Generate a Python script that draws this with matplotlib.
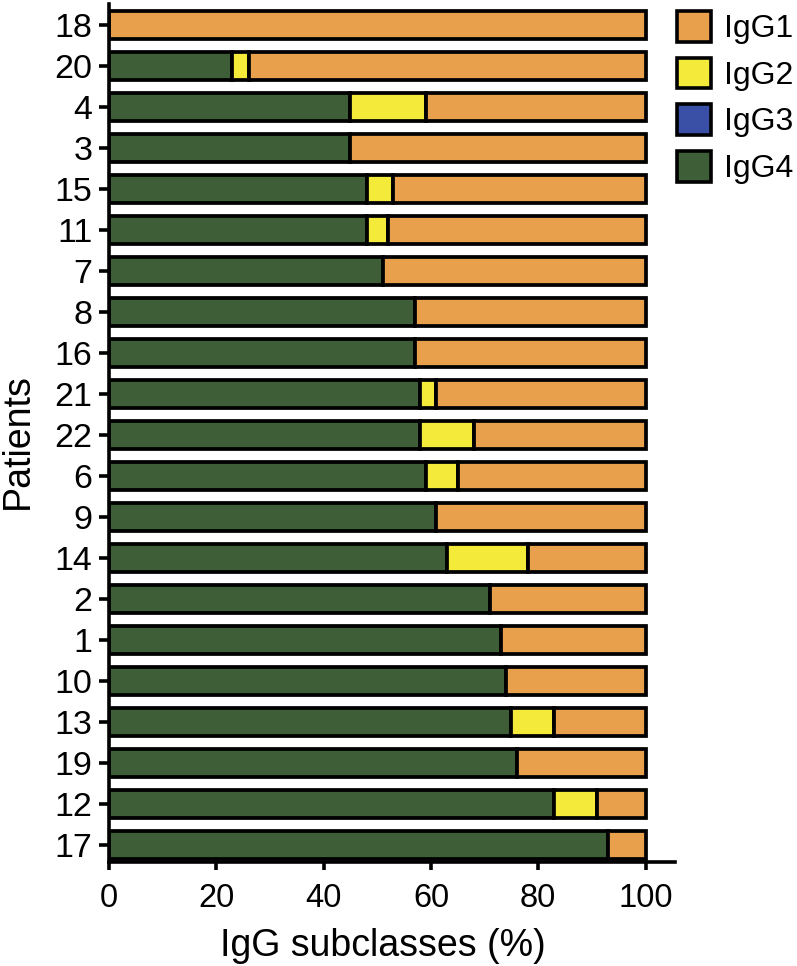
import matplotlib.pyplot as plt
import numpy as np
from matplotlib.patches import Patch

plt.rcParams['font.family'] = ['Liberation Sans', 'DejaVu Sans']

# patients listed top to bottom
patients = ['18', '20', '4', '3', '15', '11', '7', '8', '16', '21', '22',
            '6', '9', '14', '2', '1', '10', '13', '19', '12', '17']
igg4 = [0, 23, 45, 45, 48, 48, 51, 57, 57, 58, 58, 59, 61, 63, 71, 73, 74, 75, 76, 83, 93]
igg3 = [0] * 21
igg2 = [0, 3, 14, 0, 5, 4, 0, 0, 0, 3, 10, 6, 0, 15, 0, 0, 0, 8, 0, 8, 0]
igg1 = [100, 74, 41, 55, 47, 48, 49, 43, 43, 39, 32, 35, 39, 22, 29, 27, 26, 17, 24, 9, 7]

colors = {'IgG1': '#E8A04C', 'IgG2': '#F4EA3A', 'IgG3': '#3A50A6', 'IgG4': '#3E5E37'}

fig = plt.figure(figsize=(7.97, 9.66), dpi=100)
ax = fig.add_axes([0.1368, 0.1077, 0.847 - 0.1368, 0.996 - 0.1077])

y = np.arange(len(patients))
h = 0.69
lw = 2.7
left = np.zeros(len(patients))
for name, vals in [('IgG4', igg4), ('IgG3', igg3), ('IgG2', igg2), ('IgG1', igg1)]:
    vals = np.array(vals, dtype=float)
    mask = vals > 0
    ax.barh(y[mask], vals[mask], left=left[mask], height=h, color=colors[name],
            edgecolor='black', linewidth=lw, zorder=2)
    left += vals

ax.set_xlim(0, 105.5)
ax.set_ylim(len(patients) - 1 + 0.415, -0.51)
ax.set_yticks(y)
ax.set_yticklabels(patients)
ax.set_xticks([0, 20, 40, 60, 80, 100])

for s in ['top', 'right']:
    ax.spines[s].set_visible(False)
for s in ['left', 'bottom']:
    ax.spines[s].set_linewidth(2.6)
ax.tick_params(axis='y', length=7.5, width=2.6, labelsize=24.5, pad=4.5)
ax.tick_params(axis='x', length=6, width=2.6, labelsize=23.5, pad=9)

ax.set_xlabel('IgG subclasses (%)', fontsize=27)
ax.set_ylabel('Patients', fontsize=27)
ax.xaxis.set_label_coords(0.483, -0.077)
ax.yaxis.set_label_coords(-0.129, 0.49)

handles = [Patch(facecolor=colors[k], edgecolor='black', linewidth=2.6)
           for k in ['IgG1', 'IgG2', 'IgG3', 'IgG4']]
fig.legend(handles, ['IgG1', 'IgG2', 'IgG3', 'IgG4'], loc='upper left',
           bbox_to_anchor=(677 / 797, 1 - 11 / 966), frameon=False, fontsize=23,
           handlelength=1.05, handleheight=1.1, labelspacing=0.42,
           handletextpad=0.42, borderaxespad=0, borderpad=0)

fig.savefig('out.png', dpi=100)
